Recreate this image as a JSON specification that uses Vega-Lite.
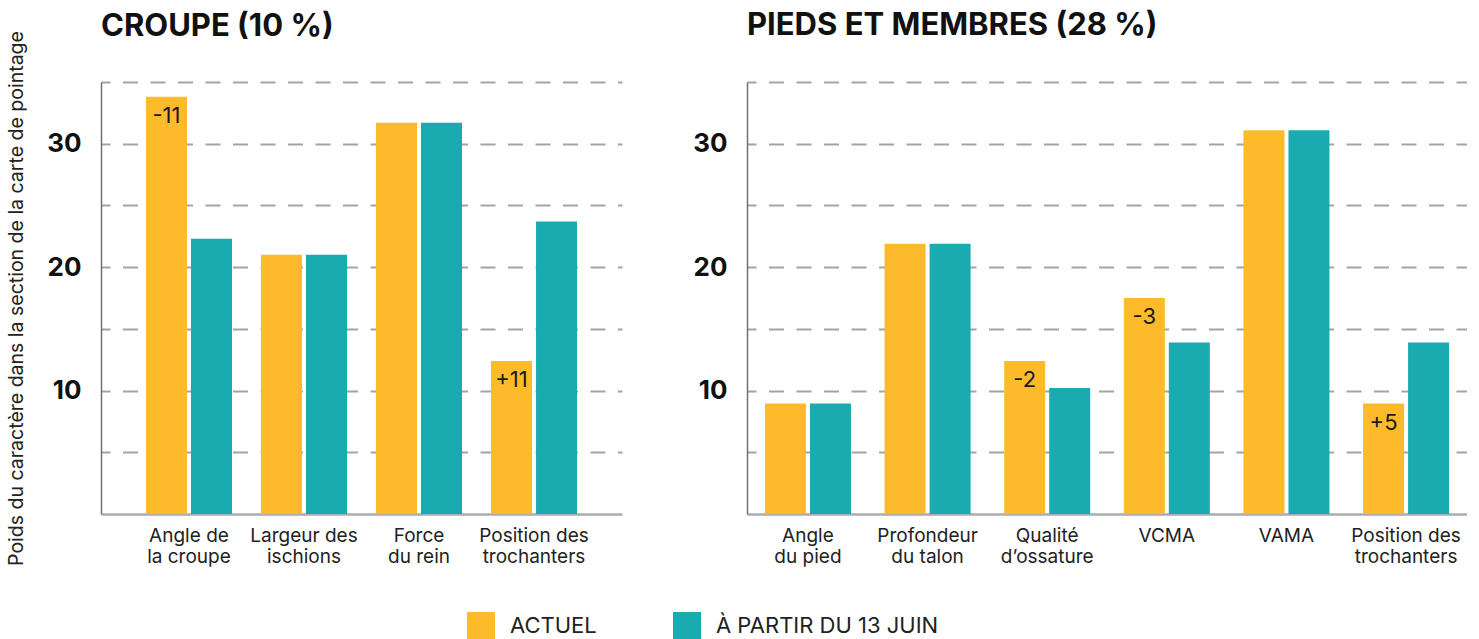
{
  "$schema": "https://vega.github.io/schema/vega-lite/v6.json",
  "padding": {"left": 6, "top": 10, "right": 0, "bottom": 0},
  "datasets": {
    "croupe": [
      {"caractere": "Angle de\nla croupe", "serie": "ACTUEL", "valeur": 33.8, "ecart": "-11"},
      {"caractere": "Angle de\nla croupe", "serie": "À PARTIR DU 13 JUIN", "valeur": 22.3, "ecart": null},
      {"caractere": "Largeur des\nischions", "serie": "ACTUEL", "valeur": 21.0, "ecart": null},
      {"caractere": "Largeur des\nischions", "serie": "À PARTIR DU 13 JUIN", "valeur": 21.0, "ecart": null},
      {"caractere": "Force\ndu rein", "serie": "ACTUEL", "valeur": 31.7, "ecart": null},
      {"caractere": "Force\ndu rein", "serie": "À PARTIR DU 13 JUIN", "valeur": 31.7, "ecart": null},
      {"caractere": "Position des\ntrochanters", "serie": "ACTUEL", "valeur": 12.4, "ecart": "+11"},
      {"caractere": "Position des\ntrochanters", "serie": "À PARTIR DU 13 JUIN", "valeur": 23.7, "ecart": null}
    ],
    "pieds": [
      {"caractere": "Angle\ndu pied", "serie": "ACTUEL", "valeur": 8.95, "ecart": null},
      {"caractere": "Angle\ndu pied", "serie": "À PARTIR DU 13 JUIN", "valeur": 8.95, "ecart": null},
      {"caractere": "Profondeur\ndu talon", "serie": "ACTUEL", "valeur": 21.9, "ecart": null},
      {"caractere": "Profondeur\ndu talon", "serie": "À PARTIR DU 13 JUIN", "valeur": 21.9, "ecart": null},
      {"caractere": "Qualité\nd’ossature", "serie": "ACTUEL", "valeur": 12.4, "ecart": "-2"},
      {"caractere": "Qualité\nd’ossature", "serie": "À PARTIR DU 13 JUIN", "valeur": 10.2, "ecart": null},
      {"caractere": "VCMA", "serie": "ACTUEL", "valeur": 17.5, "ecart": "-3"},
      {"caractere": "VCMA", "serie": "À PARTIR DU 13 JUIN", "valeur": 13.9, "ecart": null},
      {"caractere": "VAMA", "serie": "ACTUEL", "valeur": 31.1, "ecart": null},
      {"caractere": "VAMA", "serie": "À PARTIR DU 13 JUIN", "valeur": 31.1, "ecart": null},
      {"caractere": "Position des\ntrochanters", "serie": "ACTUEL", "valeur": 8.95, "ecart": "+5"},
      {"caractere": "Position des\ntrochanters", "serie": "À PARTIR DU 13 JUIN", "valeur": 13.9, "ecart": null}
    ]
  },
  "spacing": 70,
  "hconcat": [
    {
      "data": {"name": "croupe"},
      "width": 521,
      "height": 432,
      "title": {"text": "CROUPE (10 %)", "anchor": "start", "frame": "group", "fontSize": 31, "fontWeight": "bold", "color": "#111111", "offset": 40, "dy": 52},
      "encoding": {
        "x": {"field": "caractere", "type": "nominal", "sort": null,
              "scale": {"paddingInner": 0.252, "paddingOuter": 0.391},
              "axis": {"title": null, "labelAngle": 0, "labelExpr": "split(datum.value, '\\n')"}},
        "xOffset": {"field": "serie", "type": "nominal", "sort": null, "scale": {"paddingInner": 0.089, "paddingOuter": 0}},
        "y": {"field": "valeur", "type": "quantitative", "scale": {"domain": [0, 35], "nice": false},
              "axis": {"title": "Poids du caractère dans la section de la carte de pointage", "titleFontSize": 19.5, "titleFontWeight": "normal", "titleColor": "#222222", "titlePadding": 20,
                       "values": [5, 10, 15, 20, 25, 30, 35], "labelExpr": "datum.value % 10 == 0 ? datum.label : ''"}}
      },
      "layer": [
        {"mark": {"type": "bar"},
         "encoding": {"color": {"field": "serie", "type": "nominal", "scale": {"domain": ["ACTUEL", "À PARTIR DU 13 JUIN"], "range": ["#FDBB2C", "#1AABB0"]},
                                "legend": {"title": null, "orient": "none", "direction": "horizontal", "legendX": 366, "legendY": 530, "symbolType": "square", "symbolSize": 784, "symbolStrokeWidth": 0, "symbolOpacity": 1, "labelFontSize": 22, "labelColor": "#222222", "labelOffset": 15, "labelLimit": 500, "columnPadding": 76, "labelFont": "Inter"}}}},
        {"transform": [{"filter": "datum.ecart != null"}],
         "mark": {"type": "text", "baseline": "top", "dy": 9, "fontSize": 22, "color": "#1a1a1a"},
         "encoding": {"text": {"field": "ecart"}}}
      ]
    },
    {
      "data": {"name": "pieds"},
      "width": 720,
      "height": 432,
      "title": {"text": "PIEDS ET MEMBRES (28 %)", "anchor": "start", "frame": "group", "fontSize": 31, "fontWeight": "bold", "color": "#111111", "offset": 40},
      "encoding": {
        "x": {"field": "caractere", "type": "nominal", "sort": null,
              "scale": {"paddingInner": 0.281, "paddingOuter": 0.15},
              "axis": {"title": null, "labelAngle": 0, "labelExpr": "split(datum.value, '\\n')"}},
        "xOffset": {"field": "serie", "type": "nominal", "sort": null, "scale": {"paddingInner": 0.089, "paddingOuter": 0}},
        "y": {"field": "valeur", "type": "quantitative", "scale": {"domain": [0, 35], "nice": false},
              "axis": {"title": null, "values": [5, 10, 15, 20, 25, 30, 35], "labelExpr": "datum.value % 10 == 0 ? datum.label : ''"}}
      },
      "layer": [
        {"mark": {"type": "bar"},
         "encoding": {"color": {"field": "serie", "type": "nominal", "scale": {"domain": ["ACTUEL", "À PARTIR DU 13 JUIN"], "range": ["#FDBB2C", "#1AABB0"]}}}},
        {"transform": [{"filter": "datum.ecart != null"}],
         "mark": {"type": "text", "baseline": "top", "dy": 9, "fontSize": 22, "color": "#1a1a1a"},
         "encoding": {"text": {"field": "ecart"}}}
      ]
    }
  ],
  "resolve": {"scale": {"color": "shared"}},
  "config": {
    "font": "Inter",
    "view": {"stroke": null},
    "axisY": {"ticks": false, "grid": true, "gridDash": [15, 12.5], "gridDashOffset": 6, "gridColor": "#9fa6a6", "gridWidth": 2,
              "domainColor": "#6d7272", "domainWidth": 1.5, "labelFontSize": 26, "labelFontWeight": "bold", "labelColor": "#111111", "labelPadding": 20},
    "axisX": {"ticks": false, "grid": false, "domainColor": "#a9adad", "domainWidth": 2.5, "labelFontSize": 19, "labelColor": "#222222", "labelPadding": 12, "labelLineHeight": 21}
  }
}
